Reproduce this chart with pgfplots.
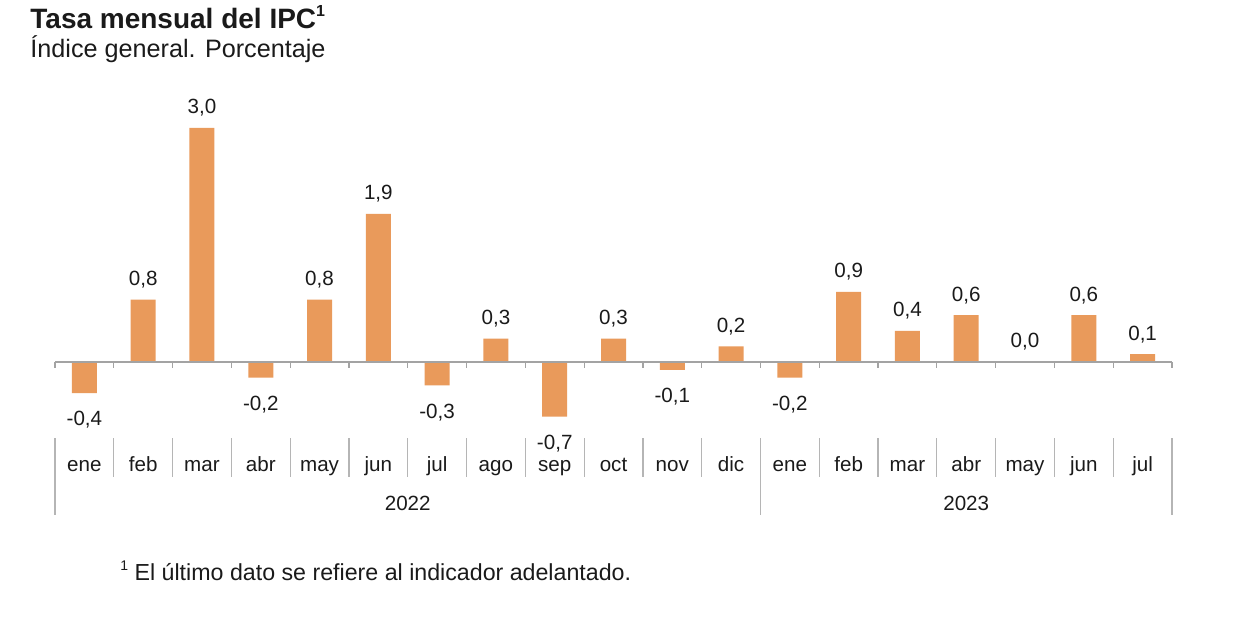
\documentclass[border=0pt]{standalone}
\usepackage{pgfplots}
\pgfplotsset{compat=1.18}
\usepackage{fontspec}
\setmainfont{Liberation Sans}
\definecolor{barc}{HTML}{E99A5B}
\definecolor{zeroc}{HTML}{A3A3A3}
\definecolor{sepc}{HTML}{B5B5B5}
\definecolor{txt}{HTML}{1A1A1A}
\begin{document}
\begin{tikzpicture}
\begin{scope}[x=0.5pt,y=-0.5pt]
\path[use as bounding box] (0,0) rectangle (1242,621);
\node[anchor=base west,inner sep=0,text=txt,font=\bfseries\fontsize{14}{16}\selectfont] at (30,28) {Tasa mensual del IPC\raisebox{0.42em}{\fontsize{8}{9}\selectfont 1}};
\node[anchor=base west,inner sep=0,text=txt,font=\fontsize{12.6}{15}\selectfont] at (30,57) {Índice general. Porcentaje};
\node[anchor=base west,inner sep=0,text=txt,font=\fontsize{11.6}{14}\selectfont] at (120,580) {\raisebox{0.42em}{\fontsize{7}{8}\selectfont 1} El último dato se refiere al indicador adelantado.};
\end{scope}
\begin{axis}[
  at={(27.5pt,-219pt)}, anchor=south west,
  scale only axis, width=558.5pt, height=162.8pt,
  xmin=-0.5, xmax=18.5, ymin=-0.9744, ymax=3.2,
  clip=false,
  axis line style={draw=none},
  major tick length=0pt,
  ytick=\empty,
  xtick={0,...,18},
  xticklabels={ene,feb,mar,abr,may,jun,jul,ago,sep,oct,nov,dic,ene,feb,mar,abr,may,jun,jul},
  xticklabel style={anchor=base,yshift=-16.5pt,text=txt,font=\fontsize{10.3}{12}\selectfont},
  ybar, bar width=12.5pt,
  nodes near coords,
  visualization depends on={rawy \as \rawy},
  every node near coord/.append style={text=txt,font=\fontsize{10.3}{12}\selectfont,inner ysep=5.5pt,
    yshift={-3.5pt*(\rawy<0)}},
  /pgf/number format/.cd, fixed, fixed zerofill, precision=1, use comma, assume math mode=true,
]
\addplot[fill=barc, draw=none] coordinates {
(0,-0.4) (1,0.8) (2,3.0) (3,-0.2) (4,0.8) (5,1.9) (6,-0.3) (7,0.3) (8,-0.7) (9,0.3)
(10,-0.1) (11,0.2) (12,-0.2) (13,0.9) (14,0.4) (15,0.6) (16,0.0) (17,0.6) (18,0.1)
};
\draw[zeroc, line width=0.75pt] (axis cs:-0.5,0) -- (axis cs:18.5,0);
\pgfplotsinvokeforeach{-0.5,0.5,...,18.5}{
  \draw[zeroc, line width=0.6pt] (axis cs:#1,0) -- ++(0pt,-3pt);
  \draw[sepc, line width=0.6pt] (axis cs:#1,-0.9744) -- ++(0pt,-19.5pt);
}
\draw[sepc, line width=0.6pt] (axis cs:-0.5,-0.9744) -- ++(0pt,-38.5pt);
\draw[sepc, line width=0.6pt] (axis cs:11.5,-0.9744) -- ++(0pt,-38.5pt);
\draw[sepc, line width=0.6pt] (axis cs:18.5,-0.9744) -- ++(0pt,-38.5pt);
\node[anchor=base,text=txt,font=\fontsize{10.3}{12}\selectfont,yshift=-36pt] at (axis cs:5.5,-0.9744) {2022};
\node[anchor=base,text=txt,font=\fontsize{10.3}{12}\selectfont,yshift=-36pt] at (axis cs:15,-0.9744) {2023};
\end{axis}
\end{tikzpicture}
\end{document}
